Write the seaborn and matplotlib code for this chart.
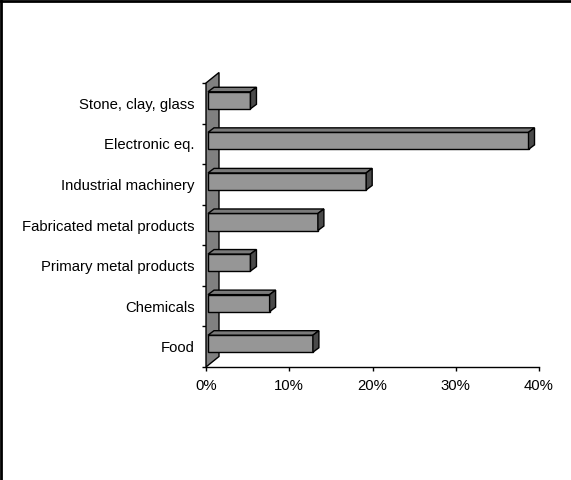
import numpy as np
import pandas as pd
import seaborn as sns
import matplotlib.pyplot as plt
from matplotlib.patches import Polygon
from matplotlib.lines import Line2D

# data (share of sector, percent)
categories = ['Stone, clay, glass', 'Electronic eq.', 'Industrial machinery',
              'Fabricated metal products', 'Primary metal products', 'Chemicals', 'Food']
shares = [5.1, 38.5, 19.0, 13.2, 5.1, 7.4, 12.6]
xticks = [0, 10, 20, 30, 40]
xticklabels = ['0%', '10%', '20%', '30%', '40%']

sns.set_style('white')
plt.rcParams['font.family'] = ['Liberation Sans', 'DejaVu Sans']

fig = plt.figure(figsize=(5.71, 4.8), dpi=100)
ax = fig.add_axes([206 / 571, (480 - 367) / 480, 333 / 571, 284 / 480])

df = pd.DataFrame({'sector': categories, 'share': shares})
sns.barplot(data=df, x='share', y='sector', orient='h', color='#969696',
            saturation=1, width=0.42, edgecolor='black', linewidth=1, ax=ax)

ax.set_xlim(0, 40)
ax.set_ylim(len(categories) - 0.5, -0.5)

# data units per pixel, used for the fake 3d depth
px_x = 40 / ax.bbox.width
px_y = len(categories) / ax.bbox.height

# side wall
wdx, wdy = 13 * px_x, 10.5 * px_y
n = len(categories)
wall = Polygon([(0, n - 0.5), (0, -0.5), (wdx, -0.5 - wdy), (wdx, n - 0.5 - wdy)],
               closed=True, facecolor='#808080', edgecolor='black', linewidth=1,
               clip_on=False, zorder=1)
ax.add_patch(wall)

# bars: shift front face a bit into the depth, then add top and side faces
dx, dy = 6 * px_x, 4.5 * px_y
for bar in list(ax.patches):
    if bar is wall:
        continue
    bar.set_x(2 * px_x)
    bar.set_y(bar.get_y() - 3 * px_y)
    bar.set_zorder(3)
    x0 = bar.get_x()
    x1 = x0 + bar.get_width()
    yt = bar.get_y()
    yb = yt + bar.get_height()
    top = Polygon([(x0, yt), (x1, yt), (x1 + dx, yt - dy), (x0 + dx, yt - dy)],
                  closed=True, facecolor='#7a7a7a', edgecolor='black', linewidth=1,
                  clip_on=False, zorder=3)
    side = Polygon([(x1, yt), (x1, yb), (x1 + dx, yb - dy), (x1 + dx, yt - dy)],
                   closed=True, facecolor='#4a4a4a', edgecolor='black', linewidth=1,
                   clip_on=False, zorder=3)
    ax.add_patch(top)
    ax.add_patch(side)

# axes styling
for s in ['left', 'top', 'right']:
    ax.spines[s].set_visible(False)
ax.spines['bottom'].set_color('black')
ax.spines['bottom'].set_linewidth(1)

ax.set_xticks(xticks)
ax.set_xticklabels(xticklabels)
ax.set_yticks(range(n))
ax.set_yticklabels(categories)
ax.set_yticks(np.arange(-0.5, n, 1), minor=True)
ax.tick_params(axis='y', which='major', length=0, pad=8, labelsize=10.7, labelcolor='black')
ax.tick_params(axis='y', which='minor', left=True, length=3, width=1, color='black', direction='out')
ax.tick_params(axis='x', which='major', bottom=True, length=3, width=1, color='black',
               direction='out', pad=5.5, labelsize=10.7, labelcolor='black')
ax.set_xlabel('')
ax.set_ylabel('')
ax.grid(False)

# chart border (only top and left visible in the picture)
fig.add_artist(Line2D([0.002, 0.002], [0, 1], transform=fig.transFigure, color='black', linewidth=2))
fig.add_artist(Line2D([0, 1], [0.997, 0.997], transform=fig.transFigure, color='black', linewidth=2))

fig.savefig('out.png', dpi=100)
